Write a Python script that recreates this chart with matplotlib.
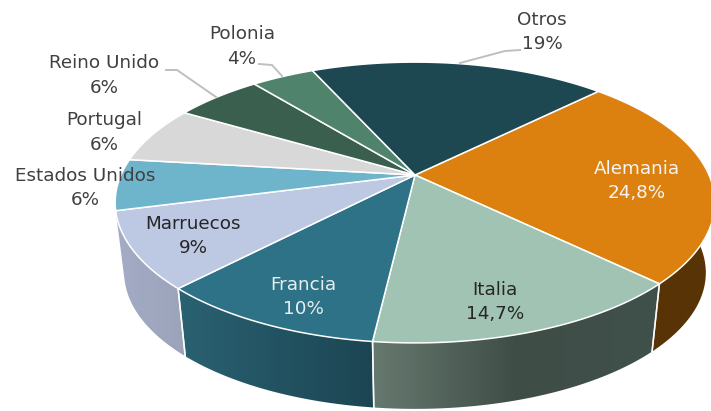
import numpy as np
import matplotlib
matplotlib.use("Agg")
import matplotlib.pyplot as plt
from matplotlib.colors import to_rgb
from matplotlib.patches import Polygon

categories = ["Alemania", "Italia", "Francia", "Marruecos", "Estados Unidos",
              "Portugal", "Reino Unido", "Polonia", "Otros"]
values = [24.7, 14.6, 10.3, 8.8, 5.9, 6.6, 5.7, 4.1, 19.3]
pct_labels = ["24,8%", "14,7%", "10%", "9%", "6%", "6%", "6%", "4%", "19%"]
top_colors = ["#DC8110", "#A0C3B4", "#2D7286", "#BDC9E2", "#6EB5CC",
              "#D8D8D8", "#3A5F4F", "#50836C", "#1D4852"]
side_colors = [("#583305", "#583305", "#583305"),
               ("#66796F", "#3F4D47", "#40504A"),
               ("#2A6272", "#235362", "#1C4553"),
               ("#A3ABC6", "#A0A8C0", "#9AA3B8")]
label_pos = [(637, 169, 193), (495, 290, 314), (303, 285, 309), (193, 224, 248),
             (85, 176, 200), (104, 120, 145), (104, 63, 88), (242, 34, 59), (542, 20, 44)]
label_colors = ["#F5F5F5", "#262626", "#E8EEF0", "#262626", "#404040",
                "#404040", "#404040", "#404040", "#404040"]
leaders = [[(520, 50), (505, 51), (460, 63)],
           [(259, 64), (272, 65), (282, 76)],
           [(166, 70), (177, 70), (216, 97)]]

CX, CY, BX, BY, P = 415, 175, 294, 135, 0.196
START = 45.2
SQ, DY = 0.97, 71
FONT = ["DejaVu Sans"]
FS = 13.2


def top_xy(theta_deg):
    t = np.radians(theta_deg)
    u, v = np.sin(t), np.cos(t)
    s = 1 / (1 + P * v)
    return CX + BX * u * s, CY - BY * v * s


def bottom_xy(theta_deg):
    x, y = top_xy(theta_deg)
    return CX + (x - CX) * SQ, CY + (y - CY) * SQ + DY


fig = plt.figure(figsize=(7.11, 4.11), dpi=100, facecolor="white")
ax = fig.add_axes([0, 0, 1, 1])
ax.axis("off")

total = sum(values)
edges = START + np.cumsum([0] + values) * 360 / total

# side walls: horizontal gradients clipped to each wall's outline
for i, stops in enumerate(side_colors):
    th = np.linspace(edges[i], edges[i + 1], 100)
    xt, yt = top_xy(th)
    xb, yb = bottom_xy(th)
    px = np.r_[xt, xb[::-1]]
    py = np.r_[yt, yb[::-1]]
    outline = Polygon(np.c_[px, py], closed=True, transform=ax.transData,
                      facecolor="none", edgecolor="none")
    ax.add_patch(outline)
    rgb = [to_rgb(k) for k in stops]
    pos = np.linspace(0, 1, 256)
    ramp = np.stack([np.interp(pos, [0, .5, 1], [c[k] for c in rgb]) for k in range(3)], axis=1)
    ax.imshow(ramp[None, :, :], extent=[px.min(), px.max(), py.max(), py.min()],
              aspect="auto", zorder=2, clip_path=outline, interpolation="bilinear")
    for a in (edges[i], edges[i + 1]):
        if 100 < a % 360 < 240:
            xa, ya = top_xy(a)
            xc, yc = bottom_xy(a)
            ax.plot([xa, xc], [ya, yc], color="white", lw=1.1, zorder=3, alpha=.9)

# top surface
for i in range(len(values)):
    th = np.linspace(edges[i], edges[i + 1], 120)
    xs, ys = top_xy(th)
    ax.fill(np.r_[CX, xs], np.r_[CY, ys], facecolor=top_colors[i],
            edgecolor="white", lw=1.1, zorder=4, joinstyle="round")

# leader lines
for pts in leaders:
    ax.plot(*zip(*pts), color="#BFBFBF", lw=1.4, zorder=5)

# labels
for name, pct, (x, y1, y2), col in zip(categories, pct_labels, label_pos, label_colors):
    ax.text(x, y1, name, ha="center", va="center", fontsize=FS, color=col,
            family=FONT, zorder=6)
    ax.text(x, y2, pct, ha="center", va="center", fontsize=FS, color=col,
            family=FONT, zorder=6)

ax.set_xlim(0, 711)
ax.set_ylim(411, 0)
fig.savefig("out.png", dpi=100, facecolor="white")
